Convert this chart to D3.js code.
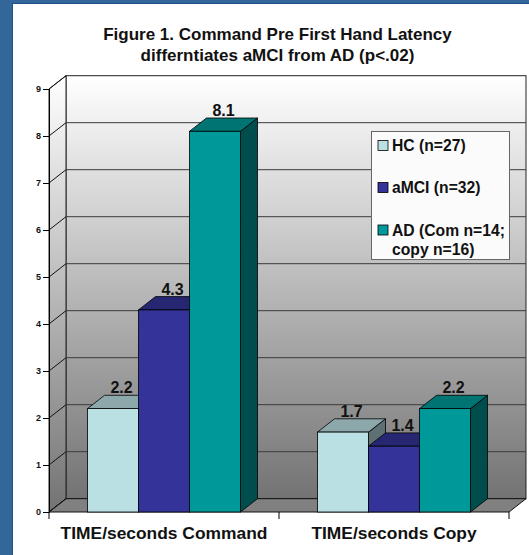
<!DOCTYPE html>
<html><head><meta charset="utf-8">
<script src="https://cdn.jsdelivr.net/npm/d3@7"></script>
<style>html,body{margin:0;padding:0;background:#fff;}svg{display:block;}</style>
</head><body>
<svg id="c" width="529" height="555"></svg>
<script>
const categories = ["TIME/seconds Command", "TIME/seconds Copy"];
const seriesNames = ["HC (n=27)", "aMCI (n=32)", "AD (Com n=14;\ncopy n=16)"];
const hcValues = [2.2, 1.7];
const amciValues = [4.3, 1.4];
const adValues = [8.1, 2.2];
const yTicks = [0,1,2,3,4,5,6,7,8,9];
const titleLines = ["Figure 1. Command Pre First Hand Latency", "differntiates aMCI from AD (p<.02)"];
const seriesFront = ["#BBE0E3", "#333399", "#009999"];
const seriesTop = ["#8CA8AA", "#262673", "#007373"];
const seriesSide = ["#5E7072", "#1A1A4D", "#004D4D"];

const svg = d3.select("#c");
const F = "Liberation Sans, Arial, sans-serif";

// page frame
svg.append("rect").attr("x",0).attr("y",0).attr("width",529).attr("height",555).attr("fill","#336699");
svg.append("rect").attr("x",12.5).attr("y",3.5).attr("width",530).attr("height",560).attr("fill","#fff").attr("stroke","#1F4F8A").attr("stroke-width",1);

// title
svg.append("g").selectAll("text").data(titleLines).join("text")
  .attr("x",277.5).attr("y",(d,i)=>39.5+i*21.5).attr("text-anchor","middle")
  .attr("font-family",F).attr("font-weight","bold").attr("font-size","17px").attr("fill","#111")
  .text(d=>d);

// geometry
const dx = 17, dy = -13.3;
const x0 = 49, x1 = 509;
const y = d3.scaleLinear().domain([0,9]).range([512,89]);
const xCat = d3.scaleBand().domain(categories).range([x0,x1]).padding(0);
const groupInset = 38.5;
const xSer = d3.scaleBand().domain(d3.range(seriesNames.length)).range([groupInset, xCat.bandwidth()-groupInset]).padding(0);

const defs = svg.append("defs");
const g1 = defs.append("linearGradient").attr("id","wall").attr("x1",0).attr("y1",0).attr("x2",0).attr("y2",1);
g1.append("stop").attr("offset","0%").attr("stop-color","#ffffff");
g1.append("stop").attr("offset","100%").attr("stop-color","#737373");

const yTop = y(9), yBot = y(0);
// back wall
svg.append("rect").attr("x",x0+dx).attr("y",yTop+dy).attr("width",x1-x0).attr("height",yBot-yTop)
  .attr("fill","url(#wall)").attr("stroke","#222").attr("stroke-width",1);
// side wall
svg.append("path").attr("d",`M${x0},${yTop}L${x0+dx},${yTop+dy}L${x0+dx},${yBot+dy}L${x0},${yBot}Z`)
  .attr("fill","url(#wall)").attr("stroke","#222").attr("stroke-width",1);
// floor
svg.append("path").attr("d",`M${x0},${yBot}L${x1},${yBot}L${x1+dx},${yBot+dy}L${x0+dx},${yBot+dy}Z`)
  .attr("fill","#808080").attr("stroke","#111").attr("stroke-width",1);

// gridlines
const grid = svg.append("g");
yTicks.filter(t=>t>0 && t<9).forEach(t=>{
  grid.append("line").attr("x1",x0+dx).attr("x2",x1+dx).attr("y1",y(t)+dy).attr("y2",y(t)+dy)
    .attr("stroke","#3a3a3a").attr("stroke-width",1);
});
yTicks.forEach(t=>{
  grid.append("line").attr("x1",x0).attr("x2",x0+dx).attr("y1",y(t)).attr("y2",y(t)+dy)
    .attr("stroke","#111").attr("stroke-width",1);
});

// y axis
const yAxis = d3.axisLeft(y).tickValues(yTicks).tickSize(6).tickPadding(2).tickFormat(d3.format("d"));
const ya = svg.append("g").attr("transform",`translate(${x0},0)`).call(yAxis);
ya.select(".domain").attr("stroke","#000");
ya.selectAll("line").attr("stroke","#000");
ya.selectAll("text").attr("font-family",F).attr("font-weight","bold").attr("font-size","9px").attr("fill","#111");

// x axis
const xAxis = d3.axisBottom(xCat).tickSize(0).tickPadding(17);
const xa = svg.append("g").attr("transform",`translate(0,${yBot})`).call(xAxis);
xa.select(".domain").remove();
xa.selectAll("text").attr("font-family",F).attr("font-weight","bold").attr("font-size","17.4px").attr("fill","#111").attr("dy","0.55em");
[x0, x0+xCat.bandwidth(), x1].forEach(xx=>{
  svg.append("line").attr("x1",xx).attr("x2",xx).attr("y1",yBot).attr("y2",yBot+7).attr("stroke","#000");
});

// bars
const data = [];
categories.forEach((c,ci)=>{
  [hcValues, amciValues, adValues].forEach((arr,si)=>{ data.push({c, si, v: arr[ci]}); });
});
const bars = svg.append("g");
data.forEach(d=>{
  const bx = xCat(d.c) + xSer(d.si);
  const bw = xSer.bandwidth();
  const ty = y(d.v), by = y(0);
  const g = bars.append("g");
  g.append("path").attr("d",`M${bx+bw},${ty}L${bx+bw+dx},${ty+dy}L${bx+bw+dx},${by+dy}L${bx+bw},${by}Z`)
    .attr("fill",seriesSide[d.si]).attr("stroke","#000").attr("stroke-width",0.8);
  g.append("path").attr("d",`M${bx},${ty}L${bx+dx},${ty+dy}L${bx+bw+dx},${ty+dy}L${bx+bw},${ty}Z`)
    .attr("fill",seriesTop[d.si]).attr("stroke","#000").attr("stroke-width",0.8);
  g.append("rect").attr("x",bx).attr("y",ty).attr("width",bw).attr("height",by-ty)
    .attr("fill",seriesFront[d.si]).attr("stroke","#000").attr("stroke-width",0.8);
});
// value labels
svg.append("g").selectAll("text").data(data).join("text")
  .attr("x",d=>xCat(d.c)+xSer(d.si)+xSer.bandwidth()/2+dx/2)
  .attr("y",d=>y(d.v)+dy-2)
  .attr("text-anchor","middle").attr("font-family",F).attr("font-weight","bold").attr("font-size","16px").attr("fill","#111")
  .text(d=>d3.format(".1f")(d.v));

// legend
const lg = svg.append("g");
lg.append("rect").attr("x",371.5).attr("y",131.5).attr("width",138).attr("height",128)
  .attr("fill","#fbfbfb").attr("stroke","#666").attr("stroke-width",1);
const rowsY = [151, 193, 235.5];
seriesNames.forEach((name,i)=>{
  lg.append("rect").attr("x",378).attr("y",rowsY[i]-10.5).attr("width",10).attr("height",10)
    .attr("fill",seriesFront[i]).attr("stroke","#000").attr("stroke-width",0.8);
  const t = lg.append("text").attr("x",392).attr("y",rowsY[i]).attr("font-family",F)
    .attr("font-weight","bold").attr("font-size","15.7px").attr("fill","#111");
  name.split("\n").forEach((ln,j)=>{
    t.append("tspan").attr("x",392).attr("dy",j===0?0:19.5).text(ln);
  });
});
</script>
</body></html>
